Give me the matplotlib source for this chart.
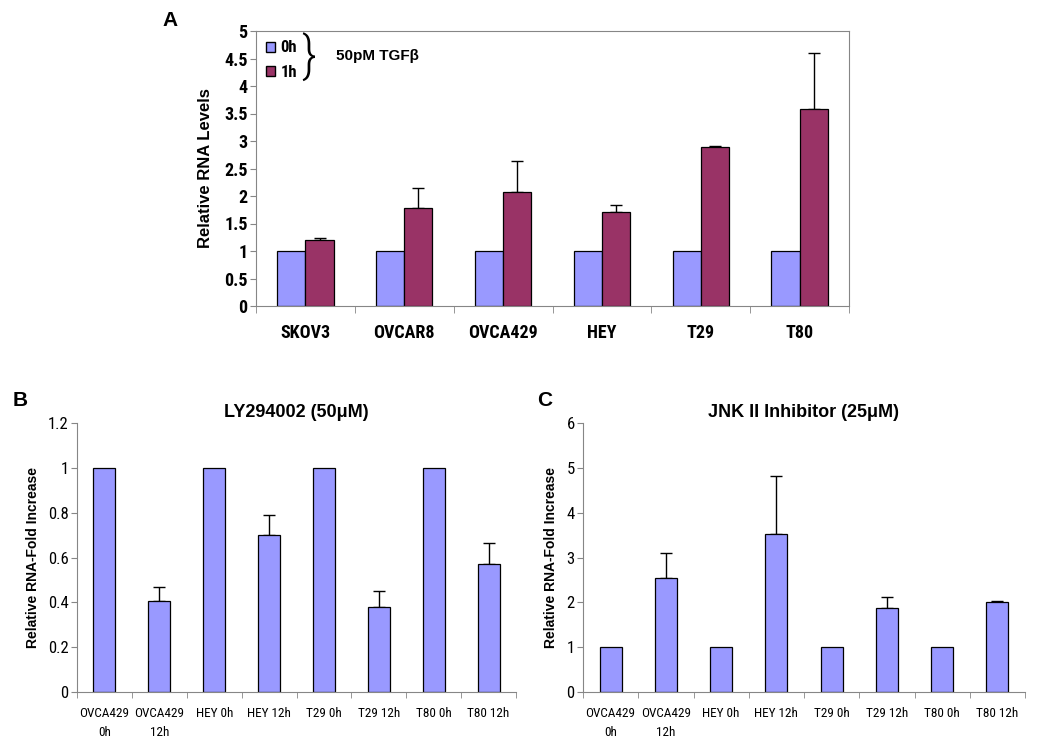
import numpy as np
import matplotlib
matplotlib.use("Agg")
import matplotlib.pyplot as plt
from matplotlib.patches import Patch

# panel A data
cells_a = ["SKOV3", "OVCAR8", "OVCA429", "HEY", "T29", "T80"]
a_0h = [1, 1, 1, 1, 1, 1]
a_1h = [1.2, 1.79, 2.08, 1.71, 2.89, 3.58]
a_1h_err = [0.03, 0.35, 0.56, 0.12, 0.02, 1.02]

# panels B and C data
labels_bc = ["OVCA429\n0h", "OVCA429\n12h", "HEY 0h", "HEY 12h",
             "T29 0h", "T29 12h", "T80 0h", "T80 12h"]
b_vals = [1, 0.405, 1, 0.70, 1, 0.38, 1, 0.57]
b_err = [0, 0.065, 0, 0.09, 0, 0.07, 0, 0.095]
c_vals = [1, 2.55, 1, 3.52, 1, 1.87, 1, 2.0]
c_err = [0, 0.55, 0, 1.30, 0, 0.25, 0, 0.02]

blue = "#9999FF"
maroon = "#993366"
grey = "#868686"
narrow = ["Roboto Condensed", "Archivo Narrow", "DejaVu Sans"]
sans = ["Liberation Sans", "DejaVu Sans"]

plt.rcParams["font.family"] = sans

fig = plt.figure(figsize=(10.5, 7.46), dpi=100)
W, H = 1050, 746


def px_axes(l, t, r, b):
    return fig.add_axes([l / W, 1 - b / H, (r - l) / W, (b - t) / H])


def up_err(ax, xs, vals, err):
    xs = np.asarray(xs)
    vals = np.asarray(vals, float)
    err = np.asarray(err, float)
    m = err > 0
    ax.errorbar(xs[m], vals[m], yerr=[np.zeros(m.sum()), err[m]], fmt="none",
                ecolor="black", elinewidth=1, capsize=4, capthick=1, zorder=1)


# ---------------- panel A ----------------
ax = px_axes(256, 31, 849, 306)
x = np.arange(len(cells_a))
w = 0.285
ax.bar(x - w / 2, a_0h, w, color=blue, edgecolor="black", linewidth=0.9, zorder=2)
ax.bar(x + w / 2, a_1h, w, color=maroon, edgecolor="black", linewidth=0.9, zorder=2)
up_err(ax, x + w / 2, a_1h, a_1h_err)
ax.set_xlim(-0.5, len(cells_a) - 0.5)
ax.set_ylim(0, 5)
ax.set_yticks(np.arange(0, 5.01, 0.5))
ax.set_yticklabels(["0", "0.5", "1", "1.5", "2", "2.5", "3", "3.5", "4", "4.5", "5"],
                   fontsize=13, fontweight="bold", family=narrow)
ax.set_xticks(x)
ax.set_xticklabels(cells_a, fontsize=13, fontweight="bold", family=narrow)
ax.set_xticks(np.arange(-0.5, len(cells_a)), minor=True)
ax.tick_params(axis="x", which="major", length=0, pad=13)
ax.tick_params(axis="x", which="minor", length=5, color=grey, direction="out")
ax.tick_params(axis="y", length=4, color=grey, direction="out", pad=2)
for s in ax.spines.values():
    s.set_color(grey)
ax.set_ylabel("Relative RNA Levels", fontsize=12, fontweight="bold", labelpad=8)

handles = [Patch(facecolor=blue, edgecolor="black", label="0h"),
           Patch(facecolor=maroon, edgecolor="black", label="1h")]
leg = ax.legend(handles=handles, loc="upper left", bbox_to_anchor=(-0.008, 1.02),
                frameon=False, handlelength=0.55, handleheight=0.55, handletextpad=0.3,
                labelspacing=0.55, prop=dict(weight="bold", size=12, family=narrow))
fig.text(309 / W, 1 - 57 / H, "}", fontsize=36, ha="center", va="center",
         family=narrow, fontweight="light")
fig.text(336 / W, 1 - 56 / H, "50pM TGF\u03b2", fontsize=11, fontweight="bold",
         ha="left", va="center", family=sans)
fig.text(170 / W, 1 - 20 / H, "A", fontsize=15, fontweight="bold", ha="center", va="center")


def panel_bc(l, r, vals, err, ymax, step, title, letter, lx):
    ax = px_axes(l, 423, r, 692)
    xi = np.arange(len(vals))
    ax.bar(xi, vals, 0.4, color=blue, edgecolor="black", linewidth=0.9, zorder=2)
    up_err(ax, xi, vals, err)
    ax.set_xlim(-0.5, len(vals) - 0.5)
    ax.set_ylim(0, ymax)
    ticks = np.arange(0, ymax + 1e-9, step)
    ax.set_yticks(ticks)
    ax.set_yticklabels([("%g" % t) for t in ticks], fontsize=12, family=narrow)
    ax.set_xticks(xi)
    ax.set_xticklabels(labels_bc, fontsize=9.5, family=narrow, va="top",
                       linespacing=1.6)
    ax.set_xticks(np.arange(-0.5, len(vals)), minor=True)
    ax.tick_params(axis="x", which="major", length=0, pad=11)
    ax.tick_params(axis="x", which="minor", length=4, color=grey, direction="out")
    ax.tick_params(axis="y", length=4, color=grey, direction="out", pad=2)
    ax.spines["top"].set_visible(False)
    ax.spines["right"].set_visible(False)
    ax.spines["left"].set_color(grey)
    ax.spines["bottom"].set_color(grey)
    ax.set_ylabel("Relative RNA-Fold Increase", fontsize=10,
                  fontweight="bold", labelpad=6)
    ax.set_title(title, fontsize=13, fontweight="bold", pad=4)
    fig.text(lx / W, 1 - 400 / H, letter, fontsize=15, fontweight="bold",
             ha="center", va="center")
    return ax


panel_bc(77, 516, b_vals, b_err, 1.2, 0.2, "LY294002 (50\u03bcM)", "B", 20)
panel_bc(583, 1025, c_vals, c_err, 6, 1, "JNK II Inhibitor (25\u03bcM)", "C", 545)

fig.savefig("out.png", dpi=100)
